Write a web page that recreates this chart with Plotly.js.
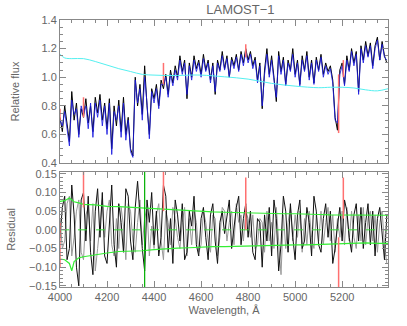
<!DOCTYPE html>
<html>
<head>
<meta charset="utf-8">
<script src="https://cdn.plot.ly/plotly-3.0.1.min.js"></script>
<style>
  body { margin: 0; background: #fff; }
  #chart { width: 407px; height: 326px; }
</style>
</head>
<body>
<div id="chart"></div>
<script>
// wavelength grid, Angstrom
const wave = [4000,4010,4020,4030,4040,4050,4060,4070,4080,4090,
  4100,4110,4120,4130,4140,4150,4160,4170,4180,4190,
  4200,4210,4220,4230,4240,4250,4260,4270,4280,4290,
  4300,4310,4320,4330,4340,4350,4360,4370,4380,4390,
  4400,4410,4420,4430,4440,4450,4460,4470,4480,4490,
  4500,4510,4520,4530,4540,4550,4560,4570,4580,4590,
  4600,4610,4620,4630,4640,4650,4660,4670,4680,4690,
  4700,4710,4720,4730,4740,4750,4760,4770,4780,4790,
  4800,4810,4820,4830,4840,4850,4860,4870,4880,4890,
  4900,4910,4920,4930,4940,4950,4960,4970,4980,4990,
  5000,5010,5020,5030,5040,5050,5060,5070,5080,5090,
  5100,5110,5120,5130,5140,5150,5160,5170,5180,5190,
  5200,5210,5220,5230,5240,5250,5260,5270,5280,5290,
  5300,5310,5320,5330,5340,5350,5360,5370,5380,5390];

// observed relative flux
const fluxObs = [0.72,0.62,0.80,0.66,0.55,0.90,0.70,0.82,0.60,0.78,
  0.72,0.85,0.68,0.80,0.62,0.86,0.75,0.88,0.70,0.82,
  0.64,0.85,0.50,0.80,0.66,0.84,0.62,0.86,0.60,0.72,
  0.50,0.45,1.00,0.80,0.95,0.74,1.08,0.80,0.60,0.92,
  0.85,0.95,0.80,0.98,0.92,1.02,0.88,1.05,0.96,1.08,
  1.00,1.15,1.04,1.12,0.85,1.10,1.00,1.15,1.06,1.12,
  1.02,1.16,1.05,1.12,0.98,1.10,0.88,1.12,1.05,1.18,
  1.06,1.15,1.00,1.14,1.08,1.16,1.05,1.18,1.10,1.20,
  1.12,1.18,1.08,1.14,0.98,1.10,0.78,1.05,1.20,1.02,
  1.15,1.00,0.83,1.18,1.04,1.14,0.95,1.12,1.05,1.20,
  1.02,1.12,0.95,1.15,1.05,1.18,1.00,1.12,0.96,1.14,
  1.05,1.16,1.02,1.10,1.04,1.08,0.98,0.72,0.63,1.05,
  1.10,0.95,1.15,1.05,1.20,1.10,1.18,0.90,1.22,1.12,
  1.25,1.15,1.24,1.08,1.22,1.28,1.12,1.25,1.15,1.10];

// model flux
const fluxFit = [0.70,0.66,0.76,0.62,0.52,0.84,0.74,0.78,0.58,0.80,
  0.74,0.80,0.64,0.82,0.58,0.82,0.72,0.84,0.66,0.80,
  0.60,0.82,0.46,0.76,0.70,0.80,0.58,0.82,0.56,0.70,
  0.48,0.44,0.98,0.82,0.92,0.70,1.00,0.82,0.57,0.90,
  0.82,0.92,0.78,0.95,0.95,1.00,0.86,1.02,0.94,1.05,
  0.98,1.12,1.02,1.10,0.88,1.08,0.98,1.12,1.04,1.10,
  1.00,1.13,1.04,1.10,0.96,1.08,0.90,1.10,1.04,1.15,
  1.05,1.13,1.00,1.12,1.06,1.14,1.04,1.16,1.08,1.18,
  1.10,1.16,1.06,1.12,0.96,1.08,0.80,1.02,1.16,1.00,
  1.12,0.98,0.86,1.15,1.02,1.12,0.94,1.10,1.04,1.16,
  1.00,1.10,0.94,1.12,1.04,1.15,0.98,1.10,0.95,1.12,
  1.04,1.14,1.00,1.08,1.02,1.06,0.96,0.70,0.68,1.02,
  1.08,0.94,1.12,1.04,1.18,1.08,1.16,0.88,1.20,1.10,
  1.22,1.14,1.22,1.06,1.20,1.26,1.12,1.23,1.14,1.12];

// smooth continuum curve (cyan)
const contWave = [4000,4020,4050,4100,4150,4200,4250,4300,4350,4400,4450,4500,4550,4600,4700,4800,4900,5000,5100,5150,5200,5250,5300,5350,5395];
const contFlux = [1.16,1.135,1.13,1.13,1.11,1.085,1.06,1.04,1.02,1.015,1.012,1.012,1.015,1.015,1.003,0.987,0.957,0.938,0.927,0.93,0.93,0.925,0.912,0.905,0.92];

// masked pixels in the flux panel (red)
const maskWave = [4000,4100,4440,4790,5185,5205];
const maskLo = [0.70,0.72,0.95,1.14,0.61,1.00];
const maskHi = [0.78,0.86,1.10,1.23,1.02,1.12];

// residuals
const resid1 = [-0.02,0.06,0.09,-0.08,-0.05,0.12,0.04,-0.10,-0.15,0.08,
  0.10,-0.03,0.09,-0.06,-0.12,0.05,0.11,-0.02,0.10,-0.07,
  -0.09,0.03,0.12,-0.04,-0.10,0.07,0.02,-0.06,0.11,0.09,
  -0.03,-0.08,0.06,0.13,0.04,-0.05,-0.11,0.08,0.02,0.10,
  -0.04,0.05,-0.07,-0.02,0.12,0.09,-0.06,0.03,-0.09,0.08,
  0.04,-0.03,0.07,-0.08,-0.06,0.05,0.01,0.09,-0.04,-0.07,
  0.03,0.06,-0.02,-0.08,0.04,0.07,-0.03,-0.09,0.02,0.05,
  -0.01,0.04,0.08,-0.05,0.01,0.06,0.09,-0.04,0.03,0.07,
  -0.02,0.05,-0.06,-0.08,0.03,0.02,-0.10,0.04,-0.03,0.06,
  -0.07,0.08,0.03,-0.11,-0.04,0.09,0.05,-0.06,0.07,-0.02,
  -0.08,0.04,0.08,-0.05,-0.03,0.06,0.02,-0.07,0.09,0.05,
  -0.04,-0.06,0.03,0.07,-0.02,0.05,-0.09,-0.05,0.01,0.06,
  -0.03,0.08,0.05,-0.02,-0.06,0.04,0.07,-0.03,0.06,-0.05,
  0.02,0.07,-0.04,0.05,-0.07,0.03,0.06,-0.02,-0.08,0.04];
const resid2 = [0.03,-0.05,-0.03,0.07,0.09,-0.07,-0.02,0.05,0.08,-0.06,
  -0.08,0.04,0.06,-0.03,0.07,-0.11,-0.05,0.02,0.08,-0.02,
  0.05,0.08,-0.04,-0.07,0.03,-0.05,0.06,0.01,-0.08,0.07,
  0.05,-0.03,-0.06,0.02,0.08,-0.04,0.03,0.06,-0.07,0.01,
  -0.05,0.04,0.07,-0.03,-0.08,0.05,0.02,-0.04,0.06,0.03,
  -0.02,-0.05,0.02,0.06,-0.07,0.03,-0.04,0.05,0.02,-0.06,
  -0.04,0.05,0.02,-0.03,-0.06,0.04,0.03,-0.07,-0.02,0.06,
  0.05,-0.03,0.02,0.05,-0.04,0.07,0.02,0.04,-0.03,0.05,
  0.03,-0.02,0.04,-0.05,-0.04,0.03,0.02,-0.06,0.05,-0.03,
  0.02,-0.05,0.06,-0.03,-0.12,0.04,-0.05,0.02,0.06,-0.03,
  0.04,-0.02,0.05,-0.06,0.03,-0.04,0.05,-0.02,-0.05,0.04,
  -0.03,0.05,-0.04,0.02,0.06,-0.03,0.04,-0.06,0.03,-0.02,
  0.05,-0.04,0.06,-0.03,0.05,-0.02,-0.05,0.04,-0.03,0.06,
  -0.04,0.03,0.05,-0.03,0.04,-0.06,0.02,0.05,-0.04,-0.09];

// error envelope (green)
const envWave = [4000,4020,4040,4050,4060,4080,4100,4150,4200,4250,4300,4350,4400,4450,4500,4550,4600,4650,4700,4750,4800,4850,4900,4950,5000,5050,5100,5150,5200,5250,5300,5350,5395];
const envHi = [0.076,0.078,0.085,0.080,0.075,0.072,0.068,0.067,0.063,0.062,0.060,0.058,0.056,0.055,0.052,0.050,0.049,0.048,0.047,0.046,0.045,0.044,0.043,0.043,0.043,0.041,0.041,0.040,0.040,0.040,0.040,0.039,0.039];
const envLo = [-0.078,-0.080,-0.090,-0.110,-0.085,-0.075,-0.072,-0.068,-0.062,-0.058,-0.057,-0.056,-0.053,-0.050,-0.049,-0.048,-0.046,-0.045,-0.045,-0.044,-0.044,-0.043,-0.042,-0.041,-0.040,-0.040,-0.039,-0.038,-0.037,-0.036,-0.035,-0.036,-0.036];

// flagged pixels in the residual panel
const flagWave = [4000,4100,4440,4790,5185,5205];
const flagLo = [-0.10,0.06,0.05,0.00,-0.155,0.03];
const flagHi = [0.02,0.16,0.16,0.14,-0.02,0.14];
const lineWave = 4360;

function segments(xs, lo, hi) {
  let x = [], y = [];
  for (let i = 0; i < xs.length; i++) {
    x.push(xs[i], xs[i], null);
    y.push(lo[i], hi[i], null);
  }
  return {x: x, y: y};
}

let maskSeg = segments(maskWave, maskLo, maskHi);
let flagSeg = segments(flagWave, flagLo, flagHi);

let data = [
  {x: wave, y: fluxObs, type: "scatter", mode: "lines", line: {color: "#000", width: 1}, xaxis: "x", yaxis: "y"},
  {x: wave, y: fluxFit, type: "scatter", mode: "lines", line: {color: "#1a1ae0", width: 1}, opacity: 0.85, xaxis: "x", yaxis: "y"},
  {x: maskSeg.x, y: maskSeg.y, type: "scatter", mode: "lines", line: {color: "#ff7070", width: 1.5}, xaxis: "x", yaxis: "y"},
  {x: contWave, y: contFlux, type: "scatter", mode: "lines", line: {color: "#55f0f0", width: 1, shape: "spline"}, xaxis: "x", yaxis: "y"},

  {x: wave, y: resid2, type: "scatter", mode: "lines", line: {color: "#999", width: 1}, xaxis: "x2", yaxis: "y2"},
  {x: wave, y: resid1, type: "scatter", mode: "lines", line: {color: "#111", width: 1}, xaxis: "x2", yaxis: "y2"},
  {x: [4000, 5395], y: [0, 0], type: "scatter", mode: "lines", line: {color: "#33dd33", width: 1, dash: "dash"}, xaxis: "x2", yaxis: "y2"},
  {x: envWave, y: envHi, type: "scatter", mode: "lines", line: {color: "#33ee33", width: 1.2}, xaxis: "x2", yaxis: "y2"},
  {x: envWave, y: envLo, type: "scatter", mode: "lines", line: {color: "#33ee33", width: 1.2}, xaxis: "x2", yaxis: "y2"},
  {x: flagSeg.x, y: flagSeg.y, type: "scatter", mode: "lines", line: {color: "#ff7070", width: 1.5}, xaxis: "x2", yaxis: "y2"},
  {x: [lineWave, lineWave], y: [-0.16, 0.16], type: "scatter", mode: "lines", line: {color: "#00b000", width: 1.2}, xaxis: "x2", yaxis: "y2"}
];

let axisFont = {family: "Liberation Sans, Arial, sans-serif", size: 11, color: "#666"};
let baseAxis = {
  showline: true, linecolor: "#888", linewidth: 1, mirror: "ticks",
  ticks: "inside", ticklen: 6, tickcolor: "#888",
  showgrid: false, zeroline: false, tickfont: axisFont
};

let layout = {
  width: 407, height: 326,
  margin: {l: 60, r: 19, t: 20, b: 39},
  paper_bgcolor: "#fff", plot_bgcolor: "#fff",
  showlegend: false,
  title: {text: "LAMOST\u22121", x: 0.55, xref: "paper", y: 0.97, yanchor: "middle",
          font: {family: "Liberation Sans, Arial, sans-serif", size: 13, color: "#666"}},
  xaxis: Object.assign({}, baseAxis, {
    range: [4000, 5395], dtick: 200, showticklabels: false, anchor: "y",
    minor: {ticks: "inside", ticklen: 3, dtick: 50, tickcolor: "#888"}
  }),
  yaxis: Object.assign({}, baseAxis, {
    domain: [0.464, 1], range: [0.4, 1.4], dtick: 0.2, tickformat: ".1f", anchor: "x",
    minor: {ticks: "inside", ticklen: 3, dtick: 0.05, tickcolor: "#888"},
    title: {text: "Relative flux", font: axisFont, standoff: 19}
  }),
  xaxis2: Object.assign({}, baseAxis, {
    range: [4000, 5395], dtick: 200, anchor: "y2",
    minor: {ticks: "inside", ticklen: 3, dtick: 50, tickcolor: "#888"},
    title: {text: "Wavelength, \u00c5", font: axisFont, standoff: 4}
  }),
  yaxis2: Object.assign({}, baseAxis, {
    domain: [0, 0.431], range: [-0.153, 0.155], dtick: 0.05, tickformat: ".2f", anchor: "x2",
    minor: {ticks: "inside", ticklen: 3, dtick: 0.01, tickcolor: "#888"},
    title: {text: "Residual", font: axisFont, standoff: 11}
  })
};

Plotly.newPlot("chart", data, layout, {displayModeBar: false, staticPlot: true});
</script>
</body>
</html>
